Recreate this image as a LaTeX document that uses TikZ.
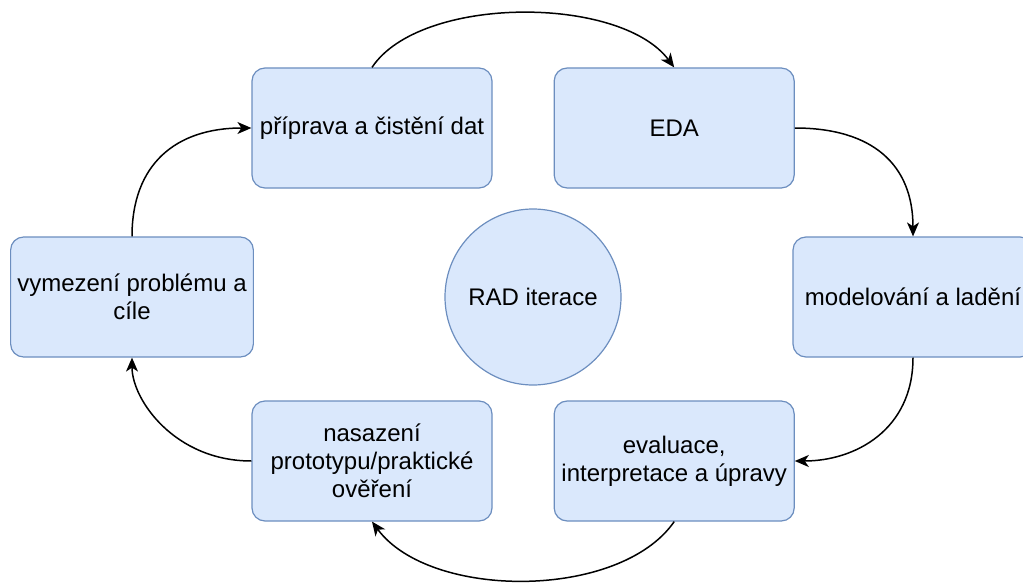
\documentclass[tikz,border=0pt]{standalone}
\usepackage{fontspec}
\setmainfont{Liberation Sans}
\usetikzlibrary{arrows.meta,positioning}
\definecolor{boxfill}{HTML}{DAE8FC}
\definecolor{boxline}{HTML}{6C8EBF}

\begin{document}
\begin{tikzpicture}[
  x=0.5pt, y=-0.5pt,
  font=\fontsize{12pt}{14pt}\selectfont,
  box/.style={draw=boxline, fill=boxfill, rounded corners=6.5pt, align=center, minimum width=120pt, minimum height=60pt, line width=0.6pt},
  ring/.style={circle, draw=boxline, fill=boxfill, minimum size=88pt, line width=0.6pt},
  arr/.style={-{Stealth[length=7pt,width=6pt,inset=2pt]}, line width=0.75pt}
]
\useasboundingbox (0,0) rectangle (1023,583);
\node[box] (prep) at (372,128) {příprava a čistění dat};
\node[box, right=30.5pt of prep] (eda) {EDA};
\node[box] (vymez) at (132,297) {vymezení problému a\\cíle};
\node[ring] (rad) at (533,297) {RAD iterace};
\node[box] (model) at (913,297) {modelování a ladění};
\node[box] (nasaz) at (372,461) {nasazení\\prototypu/praktické\\ověření};
\node[box, right=30.5pt of nasaz] (eval) {evaluace,\\interpretace a úpravy};
% cycle
\draw[arr] (prep.north) .. controls (420,-5) and (620,-5) .. (eda.north);
\draw[arr] (eda.east) .. controls (873,128) and (913,165) .. (model.north);
\draw[arr] (model.south) .. controls (913,430) and (855,461) .. (eval.east);
\draw[arr] (eval.south) .. controls (620,600) and (430,600) .. (nasaz.south);
\draw[arr] (nasaz.west) .. controls (175,461) and (132,400) .. (vymez.south);
\draw[arr] (vymez.north) .. controls (132,165) and (175,128) .. (prep.west);
\end{tikzpicture}
\end{document}
